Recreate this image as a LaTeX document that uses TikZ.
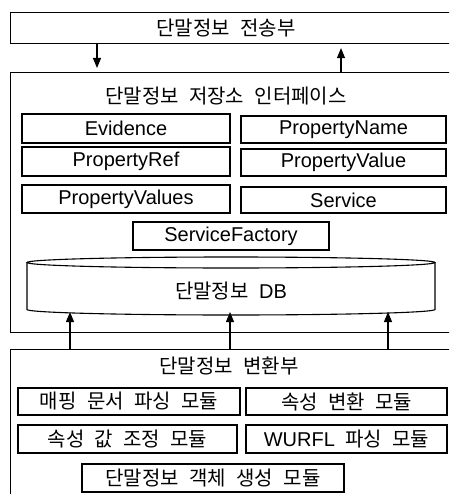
\documentclass[tikz,border=0pt]{standalone}
\usepackage{fontspec}
\setmainfont{Liberation Sans}
\newfontfamily\kr[WordSpace=2.3]{Noto Sans CJK KR}
\usetikzlibrary{arrows.meta}
\begin{document}
\begin{tikzpicture}[x=1pt,y=-1pt,
  frame/.style={draw, line width=1.1pt, inner sep=0pt, anchor=north west},
  cls/.style={draw, line width=1.1pt, inner sep=0pt, font=\fontsize{20}{20}\selectfont},
  mod/.style={draw, line width=1.1pt, inner sep=0pt, font=\kr\fontsize{20}{20}\selectfont},
  ttl/.style={inner sep=0pt, font=\kr\fontsize{20}{20}\selectfont},
  arr/.style={-{Triangle[length=10pt,width=8pt]}, line width=1.1pt}]
\clip (0,0) rectangle (449,494);
\fill[white] (0,0) rectangle (449,494);
% outer frames
\node[frame, minimum width=470pt, minimum height=31pt] (top) at (10,12) {};
\node[frame, minimum width=470pt, minimum height=260pt] (mid) at (10,72) {};
\node[frame, minimum width=470pt, minimum height=170pt] (bot) at (10,349) {};
% titles
\node[ttl] (ttop) at (226,28) {단말정보 전송부};
\node[ttl] (tmid) at (226,96) {단말정보 저장소 인터페이스};
\node[ttl] (tbot) at (229,366) {단말정보 변환부};
% classes
\node[cls, minimum width=208pt, minimum height=29pt] (evi) at (126,128.5) {Evidence};
\node[cls, minimum width=205pt, minimum height=27pt] (pn) at (343.5,129.5) {PropertyName};
\node[cls, minimum width=208pt, minimum height=29pt] (pr) at (126,161.5) {PropertyRef};
\node[cls, minimum width=205pt, minimum height=27pt] (pv) at (343.5,162.5) {PropertyValue};
\node[cls, minimum width=208pt, minimum height=28pt] (pvs) at (126,199) {PropertyValues};
\node[cls, minimum width=205pt, minimum height=26pt] (svc) at (343.5,200) {Service};
\node[cls, minimum width=196pt, minimum height=28pt] (sf) at (231,236) {ServiceFactory};
% database cylinder
\draw[line width=1.1pt, fill=white] (27,262.5) -- (27,309.5) arc[start angle=180, end angle=360, x radius=204pt, y radius=5.5pt] -- (435,262.5);
\draw[line width=1.1pt] (231,262.5) ellipse[x radius=204pt, y radius=5.5pt];
\node[ttl] (db) at (231,291) {단말정보 \rmfamily DB};
\coordinate (dbb) at (231,315);
% modules
\node[mod, minimum width=222pt, minimum height=27pt] (m1) at (129,401.5) {매핑 문서 파싱 모듈};
\node[mod, minimum width=201pt, minimum height=27pt] (m2) at (346.5,401.5) {속성 변환 모듈};
\node[mod, minimum width=219pt, minimum height=28pt] (m3) at (127.5,439) {속성 값 조정 모듈};
\node[mod, minimum width=201pt, minimum height=28pt] (m4) at (346.5,439) {{\rmfamily WURFL} 파싱 모듈};
\node[mod, minimum width=262pt, minimum height=28pt] (m5) at (213,478) {단말정보 객체 생성 모듈};
% arrows
\coordinate (xd) at (97,0);
\coordinate (xu) at (341,0);
\coordinate (x1) at (70,0);
\coordinate (x2) at (230,0);
\coordinate (x3) at (388,0);
\draw[arr, shorten >=4pt] (xd |- top.south) -- (xd |- mid.north);
\draw[arr, shorten >=4pt] (xu |- mid.north) -- (xu |- top.south);
\draw[arr, shorten >=-3pt] (x1 |- bot.north) -- (x1 |- dbb);
\draw[arr, shorten >=-3pt] (x2 |- bot.north) -- (x2 |- dbb);
\draw[arr, shorten >=-3pt] (x3 |- bot.north) -- (x3 |- dbb);
\end{tikzpicture}
\end{document}
